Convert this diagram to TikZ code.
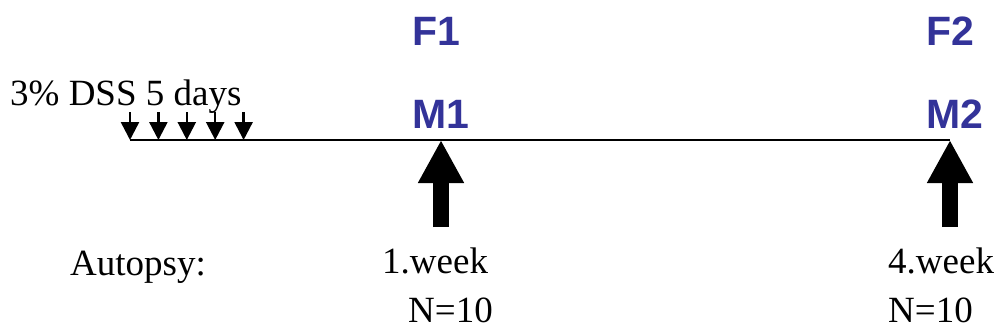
\documentclass[tikz,border=0pt]{standalone}
\usepackage{fontspec}
\setmainfont{Liberation Serif}
\setsansfont{Liberation Sans}
\usetikzlibrary{arrows.meta}
\definecolor{grpblue}{RGB}{51,51,153}

\tikzset{
    lbl/.style={inner sep=0pt, anchor=base west, font=\fontsize{37}{40}\selectfont},
    grp/.style={inner sep=0pt, anchor=base, text=grpblue, font=\sffamily\bfseries\fontsize{41}{45}\selectfont},
    bigarrow/.style={line width=16pt, -{Triangle[width=43pt,length=43pt]}},
    dayarrow/.style={line width=2.5pt, -{Triangle[width=18pt,length=18pt]}}
}

\begin{document}
\begin{tikzpicture}[x=1pt, y=-1pt]
    \useasboundingbox (0,0) rectangle (999,333);

    % Time line
    \coordinate (start) at (130,140);
    \coordinate (t1) at (441,140);
    \coordinate (t2) at (950,140);
    \draw[line width=2pt] (start) -- (t2);

    % DSS treatment
    \node[lbl] (dss) at (10,105) {3\% DSS 5 days};
    \foreach \i in {0,...,4} {
        \coordinate (d\i) at ({130+28.4*\i},140);
        \coordinate (dt\i) at ({130+28.4*\i},112);
        \draw[dayarrow] (dt\i) -- (d\i);
    }

    % Groups
    \node[grp] (f1) at (436,45) {F1};
    \node[grp] (m1) at (441,128) {M1};
    \node[grp] (f2) at (950,45) {F2};
    \node[grp] (m2) at (955,128) {M2};

    % Autopsy arrows
    \coordinate (a1) at (441,227);
    \coordinate (a2) at (950,227);
    \draw[bigarrow] (a1) -- (t1);
    \draw[bigarrow] (a2) -- (t2);

    % Autopsy labels
    \node[lbl] (autopsy) at (70,275) {Autopsy:};
    \node[lbl] (wk1) at (382,273) {1.week};
    \node[lbl] (n1) at (408,322) {N=10};
    \node[lbl] (wk4) at (888,273) {4.week};
    \node[lbl] (n2) at (888,322) {N=10};
\end{tikzpicture}
\end{document}
